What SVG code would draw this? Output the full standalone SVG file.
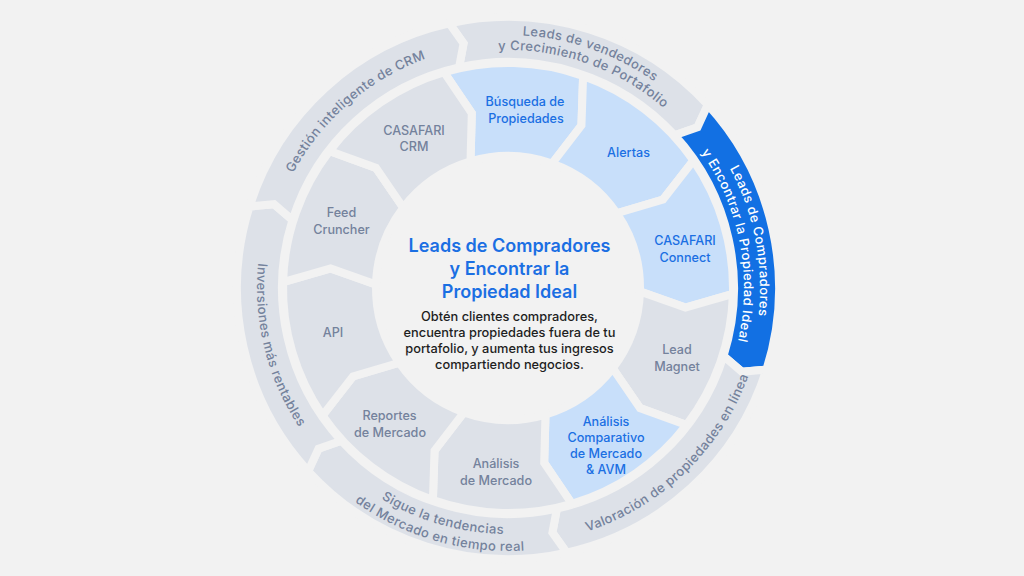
<svg xmlns="http://www.w3.org/2000/svg" width="1024" height="576" viewBox="0 0 1024 576">
<style>
.bg{fill:#f2f2f2}
.seg{stroke:#f2f2f2;stroke-width:8;stroke-linejoin:miter}
.gray{fill:#dde1e8}
.lblue{fill:#c8dffa}
.blue{fill:#1270e3}
.t{font-family:Inter,"Liberation Sans",sans-serif;font-size:12.6px;text-anchor:middle;font-weight:500}
.tg{fill:#74829c}
.tb{fill:#1b6fe3}
.ring{font-family:Inter,"Liberation Sans",sans-serif;font-size:13px;letter-spacing:0.4px;fill:#74829c;font-weight:500}
.ringw{fill:#ffffff}
.title{font-family:Inter,"Liberation Sans",sans-serif;font-size:18px;font-weight:600;fill:#1b6fe3;text-anchor:middle}
.desc{font-family:Inter,"Liberation Sans",sans-serif;font-size:12.8px;font-weight:500;fill:#1e1e1e;text-anchor:middle}
</style>
<defs>
<path id="p-top1" d="M418.57 51.33 A253 253 0 0 1 725.50 158.81"/>
<path id="p-top2" d="M423.87 65.37 A238 238 0 0 1 712.61 166.47"/>
<path id="p-blue1" d="M666.59 92.16 A252 252 0 0 1 728.40 410.17"/>
<path id="p-blue2" d="M656.52 104.59 A236 236 0 0 1 714.41 402.42"/>
<path id="p-val" d="M503.53 543.96 A256 256 0 0 0 763.96 292.47"/>
<path id="p-sig1" d="M292.84 407.26 A246 246 0 0 0 627.26 503.16"/>
<path id="p-sig2" d="M277.98 415.50 A263 263 0 0 0 635.50 518.02"/>
<path id="p-inv" d="M292.85 158.72 A251 251 0 0 0 378.72 503.15"/>
<path id="p-ges" d="M265.15 270.17 A243.5 243.5 0 0 1 525.83 45.15"/>
</defs>
<rect class="bg" x="0" y="0" width="1024" height="576"/>

<g id="outer-ring">
<g id="outer-vendedores">
<path class="seg gray" d="M449.34 23.42 A271 271 0 0 1 707.80 104.92 L697.52 127.27 L674.63 135.32 A226 226 0 0 0 459.08 67.36 L463.57 43.50 Z"/>
<text class="ring"><textPath href="#p-top1" startOffset="50%" text-anchor="middle">Leads de vendedores</textPath></text>
<text class="ring"><textPath href="#p-top2" startOffset="50%" text-anchor="middle">y Crecimiento de Portafolio</textPath></text>
</g>
<g id="outer-compradores">
<path class="seg blue" d="M707.80 104.92 A271 271 0 0 1 766.46 369.49 L741.96 371.77 L723.54 355.96 A226 226 0 0 0 674.63 135.32 L697.52 127.27 Z"/>
<text class="ring ringw"><textPath href="#p-blue1" startOffset="50%" text-anchor="middle">Leads de Compradores</textPath></text>
<text class="ring ringw"><textPath href="#p-blue2" startOffset="50%" text-anchor="middle">y Encontrar la Propiedad Ideal</textPath></text>
</g>
<g id="outer-valoracion">
<path class="seg gray" d="M766.46 369.49 A271 271 0 0 1 566.66 552.58 L552.43 532.50 L556.92 508.64 A226 226 0 0 0 723.54 355.96 L741.96 371.77 Z"/>
<text class="ring"><textPath href="#p-val" startOffset="50%" text-anchor="middle">Valoración de propiedades en línea</textPath></text>
</g>
<g id="outer-tendencias">
<path class="seg gray" d="M566.66 552.58 A271 271 0 0 1 308.20 471.08 L318.48 448.73 L341.37 440.68 A226 226 0 0 0 556.92 508.64 L552.43 532.50 Z"/>
<text class="ring"><textPath href="#p-sig1" startOffset="50%" text-anchor="middle">Sigue la tendencias</textPath></text>
<text class="ring"><textPath href="#p-sig2" startOffset="50%" text-anchor="middle">del Mercado en tiempo real</textPath></text>
</g>
<g id="outer-inversiones">
<path class="seg gray" d="M308.20 471.08 A271 271 0 0 1 249.54 206.51 L274.04 204.23 L292.46 220.04 A226 226 0 0 0 341.37 440.68 L318.48 448.73 Z"/>
<text class="ring"><textPath href="#p-inv" startOffset="50%" text-anchor="middle">Inversiones más rentables</textPath></text>
</g>
<g id="outer-crm">
<path class="seg gray" d="M249.54 206.51 A271 271 0 0 1 449.34 23.42 L463.57 43.50 L459.08 67.36 A226 226 0 0 0 292.46 220.04 L274.04 204.23 Z"/>
<text class="ring"><textPath href="#p-ges" startOffset="50%" text-anchor="middle">Gestión inteligente de CRM</textPath></text>
</g>
</g>

<g id="inner-ring">
<g id="busqueda">
<path class="seg lblue" d="M444.10 72.27 A225 225 0 0 1 583.11 75.91 L581.45 125.32 L552.06 163.57 A132 132 0 0 0 470.51 161.44 L471.80 113.21 Z"/>
<text class="t tb" x="525" y="106">Búsqueda de</text>
<text class="t tb" x="526" y="122.5">Propiedades</text>
</g>
<g id="alertas">
<path class="seg lblue" d="M583.11 75.91 A225 225 0 0 1 693.43 160.56 L663.05 199.56 L616.79 213.23 A132 132 0 0 0 552.06 163.57 L581.45 125.32 Z"/>
<text class="t tb" x="628.5" y="156.5">Alertas</text>
</g>
<g id="connect">
<path class="seg lblue" d="M693.43 160.56 A225 225 0 0 1 732.92 293.89 L685.42 307.59 L639.96 291.46 A132 132 0 0 0 616.79 213.23 L663.05 199.56 Z"/>
<text class="t tb" x="685" y="245">CASAFARI</text>
<text class="t tb" x="685" y="261.5">Connect</text>
</g>
<g id="lead-magnet">
<path class="seg gray" d="M732.92 293.89 A225 225 0 0 1 686.50 424.97 L640.02 408.13 L612.72 368.36 A132 132 0 0 0 639.96 291.46 L685.42 307.59 Z"/>
<text class="t tg" x="677" y="354">Lead</text>
<text class="t tg" x="677" y="370.5">Magnet</text>
</g>
<g id="analisis-comparativo">
<path class="seg lblue" d="M686.50 424.97 A225 225 0 0 1 571.90 503.73 L544.20 462.79 L545.49 414.56 A132 132 0 0 0 612.72 368.36 L640.02 408.13 Z"/>
<text class="t tb" x="606" y="426">Análisis</text>
<text class="t tb" x="606" y="442">Comparativo</text>
<text class="t tb" x="606" y="458">de Mercado</text>
<text class="t tb" x="606" y="474">&amp; AVM</text>
</g>
<g id="analisis-mercado">
<path class="seg gray" d="M571.90 503.73 A225 225 0 0 1 432.89 500.09 L434.55 450.68 L463.94 412.43 A132 132 0 0 0 545.49 414.56 L544.20 462.79 Z"/>
<text class="t tg" x="496" y="468">Análisis</text>
<text class="t tg" x="496" y="484.5">de Mercado</text>
</g>
<g id="reportes">
<path class="seg gray" d="M432.89 500.09 A225 225 0 0 1 322.57 415.44 L352.95 376.44 L399.21 362.77 A132 132 0 0 0 463.94 412.43 L434.55 450.68 Z"/>
<text class="t tg" x="389.5" y="420">Reportes</text>
<text class="t tg" x="390" y="436.5">de Mercado</text>
</g>
<g id="api">
<path class="seg gray" d="M322.57 415.44 A225 225 0 0 1 283.08 282.11 L330.58 268.41 L376.04 284.54 A132 132 0 0 0 399.21 362.77 L352.95 376.44 Z"/>
<text class="t tg" x="333" y="336.5">API</text>
</g>
<g id="feed-cruncher">
<path class="seg gray" d="M283.08 282.11 A225 225 0 0 1 329.50 151.03 L375.98 167.87 L403.28 207.64 A132 132 0 0 0 376.04 284.54 L330.58 268.41 Z"/>
<text class="t tg" x="341.5" y="217">Feed</text>
<text class="t tg" x="341.5" y="233.5">Cruncher</text>
</g>
<g id="casafari-crm">
<path class="seg gray" d="M329.50 151.03 A225 225 0 0 1 444.10 72.27 L471.80 113.21 L470.51 161.44 A132 132 0 0 0 403.28 207.64 L375.98 167.87 Z"/>
<text class="t tg" x="414" y="134.5">CASAFARI</text>
<text class="t tg" x="414" y="151">CRM</text>
</g>
</g>

<g id="center">
<text class="title" x="509.5" y="251.5">Leads de Compradores</text>
<text class="title" x="509.5" y="274.5">y Encontrar la</text>
<text class="title" x="509.5" y="297.5">Propiedad Ideal</text>
<text class="desc" x="509.5" y="321">Obtén clientes compradores,</text>
<text class="desc" x="509.5" y="337">encuentra propiedades fuera de tu</text>
<text class="desc" x="509.5" y="353">portafolio, y aumenta tus ingresos</text>
<text class="desc" x="509.5" y="369">compartiendo negocios.</text>
</g>

<g id="connectors"></g>
</svg>
